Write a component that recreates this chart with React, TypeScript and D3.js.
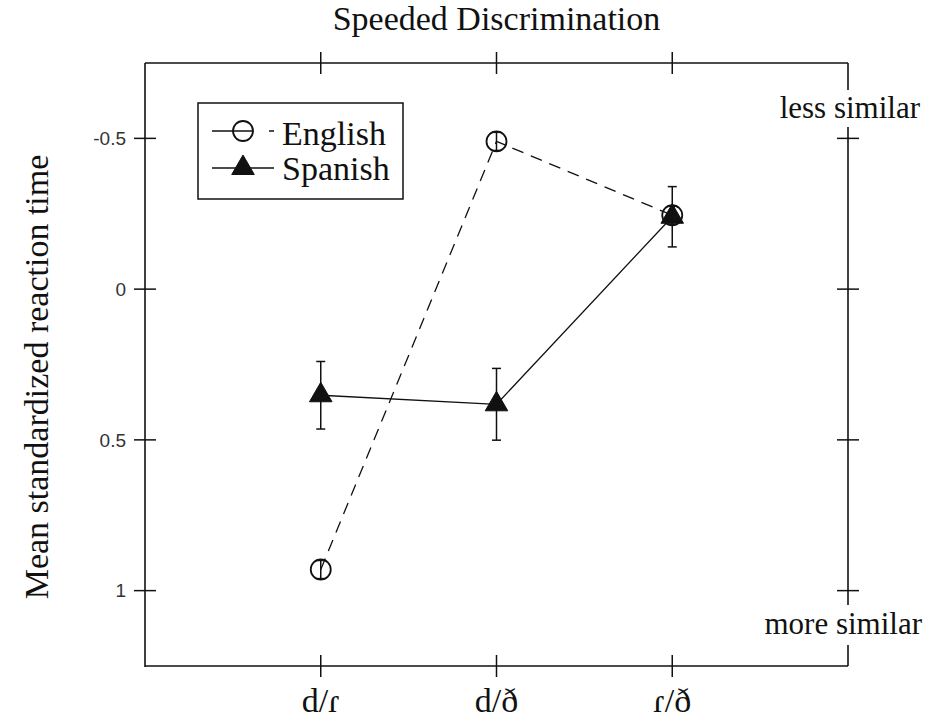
import React from "react";
import * as d3 from "d3";

const title = "Speeded Discrimination";
const yAxisTitle = "Mean standardized reaction time";
const categories = ["d/ɾ", "d/ð", "ɾ/ð"];
const englishMean = [0.93, -0.49, -0.245];
const englishErr = [0.03, 0.03, 0.03];
const spanishMean = [0.352, 0.382, -0.24];
const spanishErr = [0.112, 0.119, 0.1];
const yTicks = [-0.5, 0, 0.5, 1];
const yTickLabels = ["-0.5", "0", "0.5", "1"];
const seriesNames = ["English", "Spanish"];
const rightLabels = ["less similar", "more similar"];

const W = 927;
const H = 721;
const L = 145, R = 848, T = 63, B = 666;
const serif = "'Liberation Serif', 'Times New Roman', Times, serif";
const sans = "'Liberation Sans', Arial, Helvetica, sans-serif";
const ink = "#111";

export default function App() {
  const x = d3.scaleLinear().domain([0, 4]).range([L, R]);
  const y = d3.scaleLinear().domain([-0.75, 1.25]).range([T, B]);
  const cx = (i: number) => x(i + 1);

  const line = d3
    .line<number>()
    .x((_, i) => cx(i))
    .y((d) => y(d));

  const tri = d3.symbol(d3.symbolTriangle, 220)() as string;
  const tick = 11;

  const errBars = (means: number[], errs: number[], cap: number, key: string) =>
    means.map((m, i) => {
      const xx = cx(i);
      const y1 = y(m - errs[i]);
      const y2 = y(m + errs[i]);
      return (
        <g key={key + i} stroke={ink} strokeWidth={1.5}>
          <line x1={xx} x2={xx} y1={y1} y2={y2} />
          <line x1={xx - cap} x2={xx + cap} y1={y1} y2={y1} />
          <line x1={xx - cap} x2={xx + cap} y1={y2} y2={y2} />
        </g>
      );
    });

  return (
    <div style={{ position: "absolute", left: 0, top: 0 }}>
      <svg width={W} height={H} style={{ display: "block", background: "#fff" }}>
        <rect x={0} y={0} width={W} height={H} fill="#fff" />
        {/* title */}
        <text x={(L + R) / 2} y={30} textAnchor="middle" fontFamily={serif} fontSize={34} fill={ink}>
          {title}
        </text>
        {/* y axis title */}
        <text
          transform={`translate(48, ${377}) rotate(-90)`}
          textAnchor="middle"
          fontFamily={serif}
          fontSize={34}
          fill={ink}
        >
          {yAxisTitle}
        </text>

        {/* frame */}
        <g stroke={ink} strokeWidth={1.6} fill="none">
          <line x1={L} x2={L} y1={T} y2={B + 1} />
          <line x1={L} x2={R} y1={T} y2={T} />
          <line x1={L} x2={R} y1={B} y2={B} />
          <line x1={R} x2={R} y1={T} y2={90} />
          <line x1={R} x2={R} y1={127} y2={605} />
          <line x1={R} x2={R} y1={645} y2={B} />
        </g>

        {/* y ticks left and right */}
        {yTicks.map((t, i) => (
          <g key={"yt" + i} stroke={ink} strokeWidth={1.5}>
            <line x1={L - tick} x2={L + tick} y1={y(t)} y2={y(t)} />
            <line x1={R - tick} x2={R + tick} y1={y(t)} y2={y(t)} />
          </g>
        ))}
        {yTicks.map((t, i) => (
          <text
            key={"ytl" + i}
            x={L - 19}
            y={y(t)}
            dy="0.36em"
            textAnchor="end"
            fontFamily={sans}
            fontSize={19}
            fill="#333"
          >
            {yTickLabels[i]}
          </text>
        ))}

        {/* x ticks top and bottom */}
        {categories.map((c, i) => (
          <g key={"xt" + i} stroke={ink} strokeWidth={1.5}>
            <line x1={cx(i)} x2={cx(i)} y1={T - tick} y2={T + tick} />
            <line x1={cx(i)} x2={cx(i)} y1={B - tick} y2={B + tick} />
          </g>
        ))}
        {categories.map((c, i) => (
          <text key={"xl" + i} x={cx(i)} y={712} textAnchor="middle" fontFamily={serif} fontSize={34} fill={ink}>
            {c}
          </text>
        ))}

        {/* right labels */}
        <text x={920} y={118} textAnchor="end" fontFamily={serif} fontSize={31} fill={ink}>
          {rightLabels[0]}
        </text>
        <text x={922} y={634} textAnchor="end" fontFamily={serif} fontSize={31} fill={ink}>
          {rightLabels[1]}
        </text>

        {/* series lines */}
        <path d={line(englishMean) as string} fill="none" stroke={ink} strokeWidth={1.3} strokeDasharray="12,8" />
        <path d={line(spanishMean) as string} fill="none" stroke={ink} strokeWidth={1.3} />

        {/* error bars */}
        {errBars(spanishMean, spanishErr, 4.5, "se")}
        {errBars(englishMean, englishErr, 4.5, "ee")}

        {/* markers */}
        {spanishMean.map((m, i) => (
          <path key={"sm" + i} d={tri} transform={`translate(${cx(i)},${y(m)})`} fill={ink} stroke={ink} strokeWidth={1} />
        ))}
        {englishMean.map((m, i) => (
          <circle key={"em" + i} cx={cx(i)} cy={y(m)} r={10} fill="none" stroke={ink} strokeWidth={1.8} />
        ))}

        {/* legend */}
        <rect x={198} y={103} width={205} height={96} fill="#fff" stroke={ink} strokeWidth={1.5} />
        <line x1={212} x2={274} y1={131} y2={131} stroke={ink} strokeWidth={1.5} strokeDasharray="41,16,5" />
        <circle cx={243} cy={131} r={10} fill="none" stroke={ink} strokeWidth={1.8} />
        <text x={282} y={145} fontFamily={serif} fontSize={34} fill={ink}>
          {seriesNames[0]}
        </text>
        <line x1={212} x2={274} y1={168} y2={168} stroke={ink} strokeWidth={1.5} />
        <path d={tri} transform="translate(243,168)" fill={ink} stroke={ink} strokeWidth={1} />
        <text x={282} y={180} fontFamily={serif} fontSize={34} fill={ink}>
          {seriesNames[1]}
        </text>
      </svg>
    </div>
  );
}
